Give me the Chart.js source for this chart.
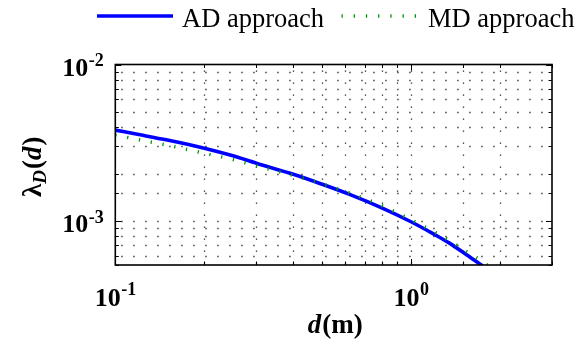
<!DOCTYPE html>
<html><head><meta charset="utf-8">
<script src="https://cdn.jsdelivr.net/npm/chart.js@4.4.0/dist/chart.umd.min.js"></script>
<style>html,body{margin:0;padding:0;background:#fff;}#wrap{width:576px;height:347px;position:relative;}</style>
</head><body><div id="wrap"><canvas id="c" width="576" height="347"></canvas></div>
<script>
// ---- data ----
const adDistance = [0.1, 0.12, 0.15, 0.2, 0.25, 0.3, 0.4, 0.5, 0.62, 0.8, 1.0, 1.2, 1.35, 1.55, 1.73, 1.8];
const adLambda   = [3.81e-3, 3.57e-3, 3.29e-3, 2.92e-3, 2.61e-3, 2.34e-3, 1.99e-3, 1.72e-3, 1.48e-3, 1.21e-3, 9.9e-4, 8.22e-4, 7.23e-4, 6.05e-4, 5.24e-4, 4.95e-4];
const mdDistance = [0.1, 0.12, 0.15, 0.2, 0.25, 0.3, 0.4, 0.5, 0.62, 0.8, 1.0, 1.2, 1.35, 1.55, 1.73, 1.85];
const mdLambda   = [3.54e-3, 3.31e-3, 3.05e-3, 2.71e-3, 2.47e-3, 2.25e-3, 1.96e-3, 1.73e-3, 1.51e-3, 1.25e-3, 1.02e-3, 8.51e-4, 7.5e-4, 6.34e-4, 5.58e-4, 5.07e-4];
const seriesNames = ['AD approach', 'MD approach'];
const xMajorTicks = [0.1, 1];
const xMajorExp   = ['-1', '0'];
const yMajorTicks = [1e-3, 1e-2];
const yMajorExp   = ['-3', '-2'];
const xRange = [0.1, 3];
const yRange = [5.24e-4, 1e-2];

const FONT = '"Liberation Serif", "Times New Roman", serif';
const BLUE = '#0000ff';
const GREEN = '#009a00';

function isMajor(v){ const l = Math.log10(v); return Math.abs(l - Math.round(l)) < 1e-6; }

const custom = {
  id: 'custom',
  beforeDatasetsDraw(chart){
    const {ctx, chartArea:a, scales:{x, y}} = chart;
    ctx.save();
    ctx.strokeStyle = 'rgba(0,0,0,0.85)';
    ctx.lineWidth = 1.3;
    ctx.setLineDash([1.3, 10.7]);
    x.ticks.forEach(t => {
      if (t.value <= x.min * 1.0001 || t.value >= x.max * 0.9999) return;
      const px = Math.round(x.getPixelForValue(t.value)) + 0.5;
      ctx.beginPath(); ctx.moveTo(px, a.top + 6); ctx.lineTo(px, a.bottom); ctx.stroke();
    });
    y.ticks.forEach(t => {
      if (t.value <= y.min * 1.0001 || t.value >= y.max * 0.9999) return;
      const py = Math.round(y.getPixelForValue(t.value)) + 0.5;
      ctx.beginPath(); ctx.moveTo(a.left + 6, py); ctx.lineTo(a.right, py); ctx.stroke();
    });
    ctx.restore();
  },
  afterDatasetsDraw(chart){
    const {ctx, chartArea:a, scales:{x, y}} = chart;
    ctx.save();
    // box
    ctx.setLineDash([]);
    ctx.strokeStyle = '#000';
    ctx.lineWidth = 1.6;
    ctx.strokeRect(a.left, a.top, a.right - a.left, a.bottom - a.top);
    // inner ticks
    ctx.lineWidth = 1;
    x.ticks.forEach(t => {
      if (t.value < x.min * 0.9999 || t.value > x.max * 1.0001) return;
      const px = Math.round(x.getPixelForValue(t.value)) + 0.5;
      const L = isMajor(t.value) ? 6 : 3.5;
      ctx.beginPath();
      ctx.moveTo(px, a.bottom); ctx.lineTo(px, a.bottom - L);
      ctx.moveTo(px, a.top); ctx.lineTo(px, a.top + L);
      ctx.stroke();
    });
    y.ticks.forEach(t => {
      if (t.value < y.min * 0.9999 || t.value > y.max * 1.0001) return;
      const py = Math.round(y.getPixelForValue(t.value)) + 0.5;
      const L = isMajor(t.value) ? 6 : 3.5;
      ctx.beginPath();
      ctx.moveTo(a.left, py); ctx.lineTo(a.left + L, py);
      ctx.moveTo(a.right, py); ctx.lineTo(a.right - L, py);
      ctx.stroke();
    });
    // tick labels  10^n
    ctx.fillStyle = '#000';
    ctx.textBaseline = 'alphabetic';
    ctx.textAlign = 'left';
    const baseF = 'bold 26px ' + FONT, expF = 'bold 18px ' + FONT;
    function measure(exp){
      ctx.font = baseF; const w1 = ctx.measureText('10').width;
      ctx.font = expF; const w2 = ctx.measureText(exp).width;
      return [w1, w2];
    }
    xMajorTicks.forEach((v, i) => {
      const px = x.getPixelForValue(v);
      const [w1, w2] = measure(xMajorExp[i]);
      const x0 = px - (w1 + w2) / 2;
      ctx.font = baseF; ctx.fillText('10', x0, 306);
      ctx.font = expF; ctx.fillText(xMajorExp[i], x0 + w1 + 0.5, 295);
    });
    yMajorTicks.forEach((v, i) => {
      const py = y.getPixelForValue(v);
      const [w1, w2] = measure(yMajorExp[i]);
      const xr = a.left - 12;
      const x0 = xr - w1 - w2;
      ctx.font = baseF; ctx.fillText('10', x0, py + 11);
      ctx.font = expF; ctx.fillText(yMajorExp[i], x0 + w1 + 0.5, py + 1.5);
    });
    // x title: d(m)
    const tF = 'bold 27px ' + FONT, tFi = 'italic bold 27px ' + FONT;
    ctx.font = tFi; const wd = ctx.measureText('d').width;
    ctx.font = tF; const wm = ctx.measureText('(m)').width;
    const cx = (a.left + a.right) / 2 + 1;
    let xs = cx - (wd + wm) / 2;
    ctx.font = tFi; ctx.fillText('d', xs, 333);
    ctx.font = tF; ctx.fillText('(m)', xs + wd + 1, 333);
    // y title: λ_D(d)
    ctx.save();
    ctx.translate(41, (a.top + a.bottom) / 2 + 2);
    ctx.rotate(-Math.PI / 2);
    const sF = 'italic bold 19px ' + FONT;
    ctx.font = tF; const wl = ctx.measureText('λ').width;
    ctx.font = sF; const wD = ctx.measureText('D').width;
    ctx.font = tF; const wp1 = ctx.measureText('(').width;
    ctx.font = tFi; const wd2 = ctx.measureText('d').width;
    ctx.font = tF; const wp2 = ctx.measureText(')').width;
    const tot = wl + wD + wp1 + wd2 + wp2 + 2;
    let s = -tot / 2;
    ctx.font = tF; ctx.fillText('λ', s, 0); s += wl;
    ctx.font = sF; ctx.fillText('D', s, 5); s += wD + 1;
    ctx.font = tF; ctx.fillText('(', s, 0); s += wp1;
    ctx.font = tFi; ctx.fillText('d', s, 0); s += wd2 + 1;
    ctx.font = tF; ctx.fillText(')', s, 0);
    ctx.restore();
    // legend
    ctx.lineCap = 'butt';
    ctx.strokeStyle = BLUE; ctx.lineWidth = 3.5; ctx.setLineDash([]);
    ctx.beginPath(); ctx.moveTo(97, 16); ctx.lineTo(173, 16); ctx.stroke();
    ctx.strokeStyle = GREEN; ctx.lineWidth = 3.5; ctx.setLineDash([1.3, 10.9]);
    ctx.beginPath(); ctx.moveTo(341.5, 16); ctx.lineTo(417, 16); ctx.stroke();
    ctx.setLineDash([]);
    ctx.font = '26.5px ' + FONT; ctx.fillStyle = '#000';
    ctx.fillText(seriesNames[0], 182, 27);
    ctx.fillText(seriesNames[1], 428, 27);
    ctx.restore();
  }
};

new Chart(document.getElementById('c'), {
  type: 'line',
  data: {
    datasets: [
      { label: seriesNames[0], data: adDistance.map((d, i) => ({x: d, y: adLambda[i]})),
        borderColor: BLUE, borderWidth: 3.6, pointRadius: 0, fill: false,
        cubicInterpolationMode: 'monotone', order: 2 },
      { label: seriesNames[1], data: mdDistance.map((d, i) => ({x: d, y: mdLambda[i]})),
        borderColor: GREEN, borderWidth: 3.5, borderDash: [1.3, 10.7], pointRadius: 0, fill: false,
        cubicInterpolationMode: 'monotone', order: 1 }
    ]
  },
  options: {
    responsive: false, animation: false, devicePixelRatio: 1,
    layout: { padding: { left: 0, right: 24, top: 64.5, bottom: 0 } },
    plugins: { legend: { display: false }, tooltip: { enabled: false } },
    scales: {
      x: { type: 'logarithmic', min: xRange[0], max: xRange[1],
           ticks: { display: false }, grid: { display: false }, border: { display: false },
           afterFit: s => { s.height = 82; } },
      y: { type: 'logarithmic', min: yRange[0], max: yRange[1],
           ticks: { display: false }, grid: { display: false }, border: { display: false },
           afterFit: s => { s.width = 115.3; } }
    }
  },
  plugins: [custom]
});
</script></body></html>
